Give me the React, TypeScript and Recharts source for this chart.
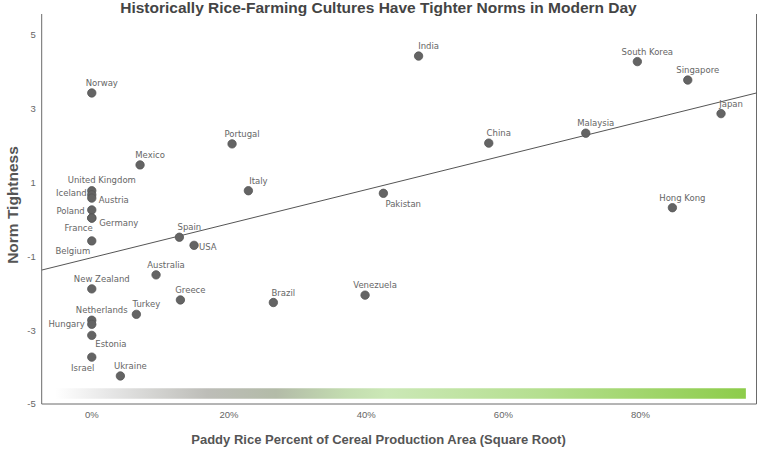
import { ScatterChart, Scatter, XAxis, YAxis, ReferenceLine, ReferenceArea } from "recharts";

const countries = [
  "Norway", "United Kingdom", "Iceland", "Austria", "Poland", "France", "Germany", "Belgium",
  "New Zealand", "Netherlands", "Hungary", "Estonia", "Israel", "Ukraine", "Turkey", "Mexico",
  "Australia", "Spain", "Greece", "USA", "Portugal", "Italy", "Brazil", "Venezuela", "Pakistan",
  "India", "China", "Malaysia", "South Korea", "Hong Kong", "Singapore", "Japan",
];
const ricePercent = [
  0, 0, 0, 0, 0, 0, 0, 0,
  0, 0, 0, 0, 0, 4.17, 6.5, 7.04,
  9.37, 12.77, 12.92, 14.91, 20.45, 22.83, 26.47, 39.84, 42.51,
  47.64, 57.87, 72.01, 79.53, 84.64, 86.88, 91.73,
];
const normTightness = [
  3.43, 0.78, 0.67, 0.58, 0.26, 0.04, 0.04, -0.58,
  -1.88, -2.73, -2.84, -3.14, -3.73, -4.24, -2.57, 1.48,
  -1.5, -0.48, -2.18, -0.7, 2.05, 0.78, -2.25, -2.05, 0.71,
  4.43, 2.07, 2.34, 4.28, 0.32, 3.78, 2.87,
];
const xTicks = [0, 20, 40, 60, 80];
const yTicks = [-5, -3, -1, 1, 3, 5];
const xDomain = [-7.3, 96.9];
const yDomain = [-5, 5.57];
// fitted trend line, read at the plot edges
const trendX = [-7.3, 96.9];
const trendY = [-1.37, 3.43];
// decorative colour band near the bottom
const bandX = [-5.35, 95.35];
const bandY = [-4.86, -4.57];

const points = countries.map((name, i) => ({ name, x: ricePercent[i], y: normTightness[i] }));

// where each label sits relative to its dot (default: above, a bit to the right)
type Place = { dx: number; dy: number; anchor: "start" | "middle" | "end" };
const defaultPlace: Place = { dx: 10, dy: -10, anchor: "middle" };
const labelPlace: Record<string, Place> = {
  "United Kingdom": { dx: 10, dy: -11, anchor: "middle" },
  Iceland: { dx: -5, dy: -2, anchor: "end" },
  Austria: { dx: 7, dy: 2, anchor: "start" },
  Poland: { dx: -7, dy: 1, anchor: "end" },
  France: { dx: 1, dy: 10, anchor: "end" },
  Germany: { dx: 7.5, dy: 5, anchor: "start" },
  Belgium: { dx: -1.5, dy: 10, anchor: "end" },
  Hungary: { dx: -7, dy: 0, anchor: "end" },
  Estonia: { dx: 3.5, dy: 9, anchor: "start" },
  Israel: { dx: 2.5, dy: 10.5, anchor: "end" },
  USA: { dx: 5, dy: 2, anchor: "start" },
  Pakistan: { dx: 2, dy: 10.5, anchor: "start" },
};

const sans = "'Liberation Sans', Arial, sans-serif";
const tickStyle = { fontFamily: sans, fontSize: 9.5, fill: "#666" };

function Dot(props: any) {
  const { cx, cy, payload } = props;
  if (cx == null || cy == null) return null;
  const p = labelPlace[payload.name] || defaultPlace;
  return (
    <g>
      <circle cx={cx} cy={cy} r={4.2} fill="#646464" stroke="#555" strokeWidth={0.8} />
      <text
        x={cx + p.dx}
        y={cy + p.dy}
        textAnchor={p.anchor}
        dominantBaseline="central"
        fontFamily="'DejaVu Sans', sans-serif"
        fontSize={8.5}
        fill="#666"
      >
        {payload.name}
      </text>
    </g>
  );
}

export default function App() {
  return (
    <div style={{ position: "absolute", left: 0, top: 0, width: 757, height: 449, background: "#fff" }}>
      <ScatterChart width={757} height={449} margin={{ top: 14, right: 0.5, bottom: 0, left: 0 }}>
        <defs>
          <linearGradient id="riceBand" x1="0" y1="0" x2="1" y2="0">
            <stop offset="0%" stopColor="#ffffff" />
            <stop offset="8%" stopColor="#e6e6e6" />
            <stop offset="22%" stopColor="#bdbdb8" />
            <stop offset="32%" stopColor="#b3bba8" />
            <stop offset="42%" stopColor="#c3dcb0" />
            <stop offset="48%" stopColor="#cbe8b6" />
            <stop offset="70%" stopColor="#b5df90" />
            <stop offset="100%" stopColor="#8dcc4a" />
          </linearGradient>
        </defs>
        <XAxis
          type="number"
          dataKey="x"
          domain={xDomain}
          allowDataOverflow
          ticks={xTicks}
          tickFormatter={(v) => `${v}%`}
          tick={tickStyle}
          tickLine={false}
          tickSize={0}
          tickMargin={7}
          axisLine={{ stroke: "#6a6a6a" }}
          height={45}
        />
        <YAxis
          type="number"
          dataKey="y"
          domain={yDomain}
          allowDataOverflow
          ticks={yTicks}
          tick={tickStyle}
          tickLine={false}
          tickSize={0}
          tickMargin={6}
          axisLine={{ stroke: "#6a6a6a" }}
          width={41.7}
        />
        <ReferenceArea
          x1={bandX[0]}
          x2={bandX[1]}
          y1={bandY[0]}
          y2={bandY[1]}
          fill="url(#riceBand)"
          fillOpacity={1}
          stroke="none"
        />
        <ReferenceLine x={xDomain[1]} stroke="#6a6a6a" />
        <ReferenceLine
          segment={[
            { x: trendX[0], y: trendY[0] },
            { x: trendX[1], y: trendY[1] },
          ]}
          stroke="#555"
          strokeWidth={1}
          ifOverflow="visible"
        />
        <Scatter data={points} shape={Dot} isAnimationActive={false} />
      </ScatterChart>
      <div
        style={{
          position: "absolute",
          left: 0,
          top: -1,
          width: 757,
          textAlign: "center",
          fontFamily: sans,
          fontWeight: "bold",
          fontSize: 15.5,
          lineHeight: "18px",
          color: "#444",
        }}
      >
        Historically Rice-Farming Cultures Have Tighter Norms in Modern Day
      </div>
      <div
        style={{
          position: "absolute",
          left: 0,
          top: 431,
          width: 757,
          textAlign: "center",
          fontFamily: sans,
          fontWeight: "bold",
          fontSize: 13,
          lineHeight: "18px",
          color: "#555",
        }}
      >
        Paddy Rice Percent of Cereal Production Area (Square Root)
      </div>
      <div
        style={{
          position: "absolute",
          left: 13 - 100,
          top: 205 - 9,
          width: 200,
          textAlign: "center",
          transform: "rotate(-90deg)",
          fontFamily: sans,
          fontWeight: "bold",
          fontSize: 15.5,
          lineHeight: "18px",
          color: "#555",
        }}
      >
        Norm Tightness
      </div>
    </div>
  );
}
